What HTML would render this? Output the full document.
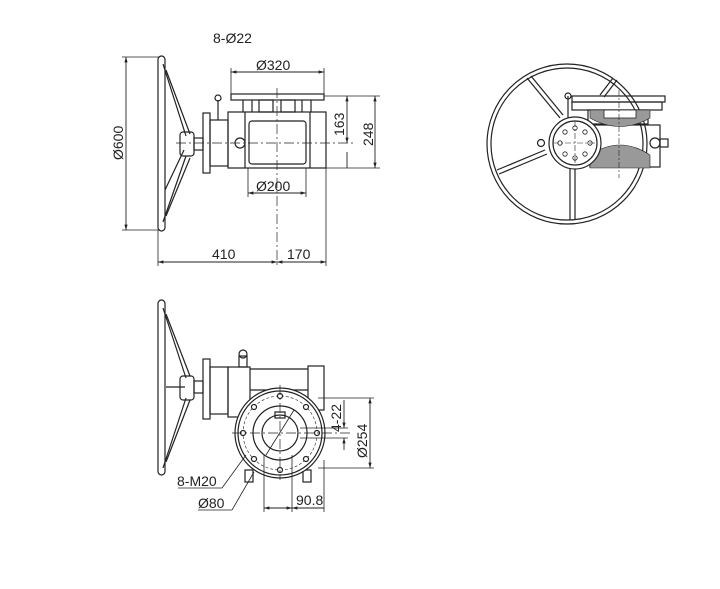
<!DOCTYPE html>
<html><head><meta charset="utf-8"><style>
html,body{margin:0;padding:0;background:#fff}
svg{display:block}
text{font-family:"Liberation Sans",sans-serif;font-size:14px;fill:#222}
</style></head><body>
<svg width="720" height="589" viewBox="0 0 720 589" xmlns="http://www.w3.org/2000/svg">
<defs>
<marker id="a" viewBox="0 0 10 10" refX="10" refY="5" markerWidth="8" markerHeight="6" orient="auto-start-reverse"><path d="M0,2 L10,5 L0,8z" fill="#222"/></marker>
</defs>
<g stroke="#222" stroke-width="1.2" fill="none">
<!-- ===== TOP VIEW ===== -->
<rect x="158" y="56" width="7" height="175" rx="3.5"/>
<line x1="163" y1="64" x2="186" y2="136"/><line x1="166" y1="70" x2="190" y2="134"/>
<line x1="163" y1="222" x2="186" y2="156"/><line x1="166" y1="216" x2="190" y2="158"/>
<line x1="165" y1="190" x2="184" y2="150"/>
<rect x="180" y="132" width="14" height="24" rx="3"/>
<rect x="194" y="138" width="9" height="12"/>
<rect x="203" y="113" width="7" height="60"/>
<rect x="210" y="120" width="18" height="46"/>
<line x1="218" y1="100" x2="218" y2="120"/><circle cx="218" cy="98" r="3"/>
<rect x="228" y="112" width="98" height="56"/>
<line x1="245" y1="112" x2="245" y2="168"/><line x1="310" y1="112" x2="310" y2="168"/>
<rect x="249" y="121" width="57" height="43" rx="3"/>
<circle cx="240" cy="143" r="5"/>
<rect x="231" y="94" width="93" height="6"/>
<line x1="243" y1="100" x2="243" y2="112"/><line x1="252" y1="100" x2="252" y2="112"/>
<rect x="259" y="100" width="14" height="12"/><rect x="281" y="100" width="14" height="12"/>
<line x1="302" y1="100" x2="302" y2="112"/><line x1="311" y1="100" x2="311" y2="112"/>
<line x1="176" y1="143" x2="356" y2="143" stroke-dasharray="10,3,2,3" stroke-width="0.7"/>
<line x1="277" y1="88" x2="277" y2="266" stroke-dasharray="10,3,2,3" stroke-width="0.7"/>
<!-- dims -->
<line x1="122" y1="57" x2="160" y2="57" stroke-width="0.8"/><line x1="122" y1="230" x2="160" y2="230" stroke-width="0.8"/>
<line x1="126" y1="57" x2="126" y2="230" marker-start="url(#a)" marker-end="url(#a)" stroke-width="0.9"/>
<line x1="231" y1="68" x2="231" y2="94" stroke-width="0.8"/><line x1="324" y1="68" x2="324" y2="94" stroke-width="0.8"/>
<line x1="231" y1="72" x2="324" y2="72" marker-start="url(#a)" marker-end="url(#a)" stroke-width="0.9"/>
<line x1="248" y1="168" x2="248" y2="197" stroke-width="0.8"/><line x1="306" y1="168" x2="306" y2="197" stroke-width="0.8"/>
<line x1="248" y1="193" x2="306" y2="193" marker-start="url(#a)" marker-end="url(#a)" stroke-width="0.9"/>
<line x1="324" y1="96" x2="380" y2="96" stroke-width="0.8"/><line x1="326" y1="168" x2="380" y2="168" stroke-width="0.8"/>
<line x1="347" y1="96" x2="347" y2="143" marker-start="url(#a)" marker-end="url(#a)" stroke-width="0.9"/>
<line x1="347" y1="152" x2="347" y2="168" stroke-width="0.9"/>
<line x1="375" y1="96" x2="375" y2="168" marker-start="url(#a)" marker-end="url(#a)" stroke-width="0.9"/>
<line x1="158" y1="230" x2="158" y2="266" stroke-width="0.8"/><line x1="326" y1="168" x2="326" y2="266" stroke-width="0.8"/>
<line x1="158" y1="262" x2="277" y2="262" marker-start="url(#a)" marker-end="url(#a)" stroke-width="0.9"/>
<line x1="277" y1="262" x2="326" y2="262" marker-start="url(#a)" marker-end="url(#a)" stroke-width="0.9"/>

<!-- ===== BOTTOM VIEW ===== -->
<rect x="158" y="300" width="7" height="175" rx="3.5"/>
<line x1="163" y1="308" x2="186" y2="378"/><line x1="166" y1="314" x2="190" y2="376"/>
<line x1="163" y1="468" x2="186" y2="398"/><line x1="166" y1="462" x2="190" y2="400"/>
<line x1="166" y1="387" x2="185" y2="387"/>
<rect x="180" y="376" width="14" height="24" rx="3"/>
<rect x="194" y="381" width="9" height="12"/>
<rect x="203" y="359" width="7" height="60"/>
<rect x="210" y="367" width="18" height="47"/>
<rect x="228" y="367" width="22" height="50"/>
<line x1="250" y1="369" x2="308" y2="369"/><line x1="250" y1="390" x2="308" y2="390"/>
<rect x="308" y="366" width="16" height="44"/>
<rect x="239" y="356" width="8" height="11"/><circle cx="243" cy="354" r="4"/>
<rect x="245" y="470" width="8" height="12"/><rect x="303" y="470" width="8" height="12"/>
<circle cx="280" cy="433" r="45" fill="#fff"/><circle cx="280" cy="433" r="42"/>
<circle cx="280" cy="433" r="37" stroke-dasharray="3,2" stroke-width="0.6"/>
<circle cx="280" cy="433" r="27"/><circle cx="280" cy="433" r="18"/>
<rect x="275" y="412" width="10" height="6"/>
<g fill="#fff">
<circle cx="280" cy="396" r="2.5"/><circle cx="280" cy="470" r="2.5"/><circle cx="243" cy="433" r="2.5"/><circle cx="317" cy="433" r="2.5"/>
<circle cx="254" cy="407" r="2.5"/><circle cx="306" cy="407" r="2.5"/><circle cx="254" cy="459" r="2.5"/><circle cx="306" cy="459" r="2.5"/>
</g>
<line x1="232" y1="433" x2="352" y2="433" stroke-dasharray="10,3,2,3" stroke-width="0.7"/>
<line x1="280" y1="385" x2="280" y2="480" stroke-dasharray="10,3,2,3" stroke-width="0.7"/>
<line x1="266" y1="455" x2="294" y2="410" stroke-width="0.8"/>
<!-- dims -->
<line x1="318" y1="398" x2="374" y2="398" stroke-width="0.8"/><line x1="318" y1="468" x2="374" y2="468" stroke-width="0.8"/>
<line x1="370" y1="398" x2="370" y2="468" marker-start="url(#a)" marker-end="url(#a)" stroke-width="0.9"/>
<line x1="300" y1="428" x2="348" y2="428" stroke-width="0.8"/><line x1="300" y1="438" x2="348" y2="438" stroke-width="0.8"/>
<line x1="344" y1="400" x2="344" y2="428" marker-end="url(#a)" stroke-width="0.9"/>
<line x1="344" y1="450" x2="344" y2="438" marker-end="url(#a)" stroke-width="0.9"/>
<line x1="264" y1="455" x2="264" y2="512" stroke-width="0.8"/><line x1="292" y1="455" x2="292" y2="512" stroke-width="0.8"/><line x1="324" y1="460" x2="324" y2="512" stroke-width="0.8"/>
<line x1="264" y1="508" x2="292" y2="508" marker-start="url(#a)" marker-end="url(#a)" stroke-width="0.9"/>
<line x1="292" y1="508" x2="324" y2="508" stroke-width="0.9" marker-start="url(#a)"/>
<line x1="178" y1="488" x2="222" y2="488" stroke-width="0.8"/><line x1="222" y1="488" x2="246" y2="455" stroke-width="0.8"/>
<line x1="198" y1="510" x2="232" y2="510" stroke-width="0.8"/><line x1="232" y1="510" x2="254" y2="472" stroke-width="0.8"/>

<!-- ===== RIGHT VIEW ===== -->
<circle cx="567" cy="144" r="80"/><circle cx="567" cy="144" r="76"/>
<line x1="527" y1="78" x2="560" y2="118"/><line x1="531" y1="76" x2="563" y2="115"/>
<line x1="497" y1="170" x2="545" y2="150"/><line x1="499" y1="174" x2="547" y2="154"/>
<line x1="570" y1="168" x2="570" y2="220"/><line x1="575" y1="168" x2="575" y2="220"/>
<line x1="613" y1="78" x2="600" y2="95"/><line x1="617" y1="80" x2="604" y2="97"/>
<rect x="572" y="96" width="93" height="6"/>
<rect x="572" y="102" width="90" height="8"/>
<rect x="588" y="110" width="60" height="14"/>
<rect x="590" y="125" width="70" height="42"/>
<path d="M590,155 Q620,135 650,155 L650,168 L590,168Z" fill="#999" stroke-width="0.6"/>
<path d="M590,110 L650,110 L650,118 Q620,135 590,118Z" fill="#999" stroke-width="0.6"/>
<rect x="604" y="110" width="32" height="8" fill="#fff" stroke-width="0.8"/>
<circle cx="655" cy="143" r="5"/><rect x="660" y="139" width="8" height="8"/>
<line x1="568" y1="96" x2="568" y2="118"/><circle cx="568" cy="96" r="3"/>
<circle cx="575" cy="143" r="26" fill="#fff"/><circle cx="575" cy="143" r="22"/>
<circle cx="541" cy="143" r="3.5"/>
<g stroke-width="0.8">
<circle cx="575" cy="128" r="2.2"/><circle cx="575" cy="158" r="2.2"/><circle cx="560" cy="143" r="2.2"/><circle cx="590" cy="143" r="2.2"/>
<circle cx="565" cy="132" r="2.2"/><circle cx="585" cy="132" r="2.2"/><circle cx="565" cy="154" r="2.2"/><circle cx="585" cy="154" r="2.2"/>
</g>
<line x1="553" y1="143" x2="597" y2="143" stroke-dasharray="6,2,2,2" stroke-width="0.6"/>
<line x1="575" y1="121" x2="575" y2="165" stroke-dasharray="6,2,2,2" stroke-width="0.6"/>
<line x1="619" y1="90" x2="619" y2="178" stroke-dasharray="6,2,2,2" stroke-width="0.6"/>
</g>
<!-- text -->
<text x="213" y="43">8-Ø22</text>
<text x="256" y="70">Ø320</text>
<text x="256" y="191">Ø200</text>
<text x="212" y="259">410</text>
<text x="287" y="259">170</text>
<text transform="translate(123,160) rotate(-90)">Ø600</text>
<text transform="translate(344,136) rotate(-90)">163</text>
<text transform="translate(373,146) rotate(-90)">248</text>
<text transform="translate(367,458) rotate(-90)">Ø254</text>
<text transform="translate(341,432) rotate(-90)">4-22</text>
<text x="177" y="486">8-M20</text>
<text x="198" y="508">Ø80</text>
<text x="296" y="505">90.8</text>
</svg>
</body></html>
